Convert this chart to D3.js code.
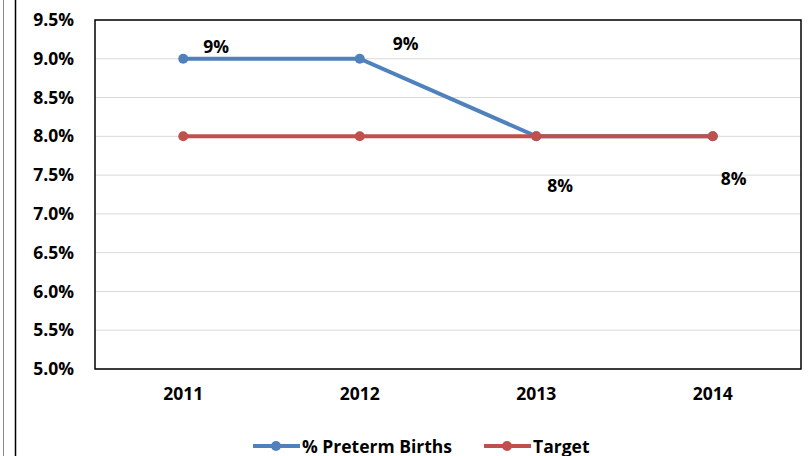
<!DOCTYPE html>
<html>
<head>
<meta charset="utf-8">
<script src="https://cdn.jsdelivr.net/npm/d3@7"></script>
<style>
  body { margin: 0; background: #fff; }
  text { font-family: "Open Sans", "Noto Sans", sans-serif; font-weight: bold; fill: #000; }
</style>
</head>
<body>
<script>
// Data
const years = ["2011", "2012", "2013", "2014"];
const preterm = [0.09, 0.09, 0.08, 0.08];
const target = [0.08, 0.08, 0.08, 0.08];
const yTicks = [0.05, 0.055, 0.06, 0.065, 0.07, 0.075, 0.08, 0.085, 0.09, 0.095];
const pretermLabels = ["9%", "9%", "8%", "8%"];

const W = 812, H = 456;
const margin = { top: 20, right: 11, bottom: 87, left: 95 };
const width = W - margin.left - margin.right;
const height = H - margin.top - margin.bottom;
const fs = "17.5px";

const svg = d3.select("body").append("svg")
    .attr("width", W)
    .attr("height", H);

// outer frame lines on the left
svg.append("line").attr("x1", 3.5).attr("x2", 3.5).attr("y1", 0).attr("y2", H)
    .attr("stroke", "#888").attr("stroke-width", 1);
svg.append("line").attr("x1", 15.5).attr("x2", 15.5).attr("y1", 0).attr("y2", H)
    .attr("stroke", "#000").attr("stroke-width", 1.5);

const g = svg.append("g")
    .attr("transform", "translate(" + margin.left + "," + margin.top + ")");

const x = d3.scaleBand().domain(years).range([0, width]);
const y = d3.scaleLinear().domain([0.05, 0.095]).range([height, 0]);

// gridlines
g.selectAll(".grid")
    .data(yTicks)
    .enter().append("line")
    .attr("class", "grid")
    .attr("x1", 0).attr("x2", width)
    .attr("y1", d => y(d)).attr("y2", d => y(d))
    .attr("stroke", "#d9d9d9").attr("stroke-width", 1);

// y axis labels
const yAxis = d3.axisLeft(y).tickValues(yTicks).tickFormat(d3.format(".1%")).tickSize(0).tickPadding(21);
g.append("g").call(yAxis)
    .call(s => s.select(".domain").remove())
    .selectAll("text").style("font-size", fs);

// x axis labels
const xAxis = d3.axisBottom(x).tickSize(0).tickPadding(19);
g.append("g").attr("transform", "translate(0," + height + ")").call(xAxis)
    .call(s => s.select(".domain").remove())
    .selectAll("text").style("font-size", fs);

// plot border
g.append("rect")
    .attr("x", 0).attr("y", 0).attr("width", width).attr("height", height)
    .attr("fill", "none").attr("stroke", "#000").attr("stroke-width", 1.5);

const cx = d => x(d) + x.bandwidth() / 2;

function drawSeries(values, color) {
    const line = d3.line().x((d, i) => cx(years[i])).y(d => y(d));
    g.append("path").datum(values)
        .attr("d", line).attr("fill", "none")
        .attr("stroke", color).attr("stroke-width", 4);
    g.selectAll(null).data(values).enter().append("circle")
        .attr("cx", (d, i) => cx(years[i])).attr("cy", d => y(d))
        .attr("r", 5).attr("fill", color);
}

drawSeries(preterm, "#4f81bd");
drawSeries(target, "#c0504d");

// data labels for preterm series
const labelOffsets = [[33, -13], [46, -16], [24, 49], [21, 42]];
g.selectAll(".dlabel").data(preterm).enter().append("text")
    .attr("class", "dlabel")
    .attr("x", (d, i) => cx(years[i]) + labelOffsets[i][0])
    .attr("y", (d, i) => y(d) + labelOffsets[i][1])
    .attr("text-anchor", "middle").attr("dominant-baseline", "central")
    .style("font-size", fs)
    .text((d, i) => pretermLabels[i]);

// legend
const legend = [
    { name: "% Preterm Births", color: "#4f81bd", x: 253 },
    { name: "Target", color: "#c0504d", x: 484 }
];
const lg = svg.selectAll(".legend").data(legend).enter().append("g")
    .attr("transform", d => "translate(" + d.x + ",446)");
lg.append("line").attr("x1", 0).attr("x2", 47)
    .attr("stroke", d => d.color).attr("stroke-width", 4);
lg.append("circle").attr("cx", 23).attr("r", 5).attr("fill", d => d.color);
lg.append("text").attr("x", 49).attr("dominant-baseline", "central")
    .style("font-size", fs).text(d => d.name);
</script>
</body>
</html>
